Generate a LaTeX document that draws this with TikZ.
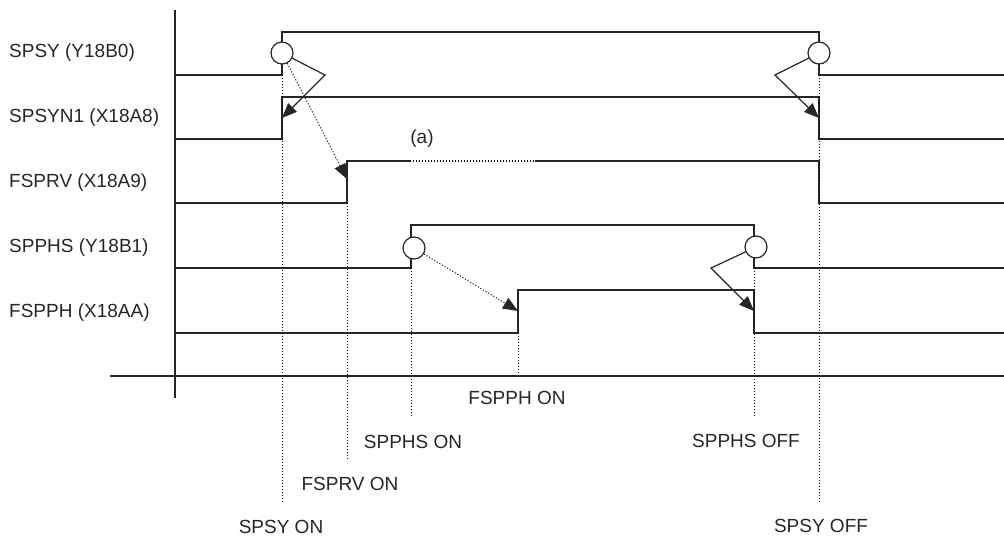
\documentclass[tikz,border=0pt]{standalone}
\usepackage{fontspec}
\setmainfont{Liberation Sans}
\usetikzlibrary{positioning,calc,arrows.meta}

\begin{document}
\begin{tikzpicture}[x=1pt,y=-1pt,
    sig/.style={line width=1.2pt,black!85},
    guide/.style={line width=1pt,black,dash pattern=on 1.2pt off 1.8pt},
    lbl/.style={font=\fontsize{19}{22}\selectfont,inner sep=0pt,text=black!85},
    edgemark/.style={circle,draw=black!85,line width=1.2pt,fill=white,minimum size=22pt,inner sep=0pt},
    arr/.style={line width=1.2pt,black!85,-{Triangle[length=15pt,width=12pt]}},
    darr/.style={arr,line width=1pt,dash pattern=on 1.2pt off 1.8pt}]
    \useasboundingbox (0,0) rectangle (1004,538);
    % axes
    \draw[sig] (175,10) -- (175,398);
    \draw[sig] (110,376) -- (1004,376);
    % signal names
    \node[lbl,anchor=west] (spsy) at (9,53) {SPSY (Y18B0)};
    \node[lbl,anchor=west] (spsyn) at (9,118) {SPSYN1 (X18A8)};
    \node[lbl,anchor=west] (fsprv) at (9,183) {FSPRV (X18A9)};
    \node[lbl,anchor=west] (spphs) at (9,248) {SPPHS (Y18B1)};
    \node[lbl,anchor=west] (fspph) at (9,313) {FSPPH (X18AA)};
    % waveforms
    \draw[sig] (175,75) -- (282,75) -- (282,32) -- (819,32) -- (819,75) -- (1004,75);
    \draw[sig] (175,139) -- (282,139) -- (282,97) -- (819,97) -- (819,139) -- (1004,139);
    \draw[sig] (175,203) -- (347,203) -- (347,161) -- (410,161);
    \draw[guide,line width=1.2pt] (410,161) -- (535,161);
    \draw[sig] (535,161) -- (819,161) -- (819,203) -- (1004,203);
    \draw[sig] (175,268) -- (411,268) -- (411,225) -- (754,225) -- (754,268) -- (1004,268);
    \draw[sig] (175,333) -- (518,333) -- (518,290) -- (754,290) -- (754,333) -- (1004,333);
    \node[lbl] (amark) at (422,139) {(a)};
    % timing guides
    \foreach \x/\ya/\yb in {282/75/502,347/203/459,411/268/417,518/333/376,754/268/417,819/75/502}
      \draw[guide] (\x,\ya) -- (\x,\yb);
    \node[lbl] (spsyon) at (281,527) {SPSY ON};
    \node[lbl] (fsprvon) at (350,484) {FSPRV ON};
    \node[lbl] (spphson) at (413,442) {SPPHS ON};
    \node[lbl] (fspphon) at (517,398) {FSPPH ON};
    \node[lbl] (spphsoff) at (746,441) {SPPHS OFF};
    \node[lbl] (spsyoff) at (821,526) {SPSY OFF};
    % edge marks and responses
    \node[edgemark] (c1) at (282,53) {};
    \node[edgemark] (c2) at (819,53) {};
    \node[edgemark] (c3) at (414,248) {};
    \node[edgemark] (c4) at (756,247) {};
    \coordinate (k1) at (325,75); \coordinate (t1) at (282,118);
    \coordinate (t2) at (347,179);
    \coordinate (k2) at (775,75); \coordinate (t3) at (819,118);
    \coordinate (t4) at (518,311);
    \coordinate (k3) at (711,268); \coordinate (t5) at (754,311);
    \draw[arr] (c1) -- (k1) -- (t1);
    \draw[darr] (c1) -- (t2);
    \draw[arr] (c2) -- (k2) -- (t3);
    \draw[darr] (c3) -- (t4);
    \draw[arr] (c4) -- (k3) -- (t5);
  \end{tikzpicture}
\end{document}
